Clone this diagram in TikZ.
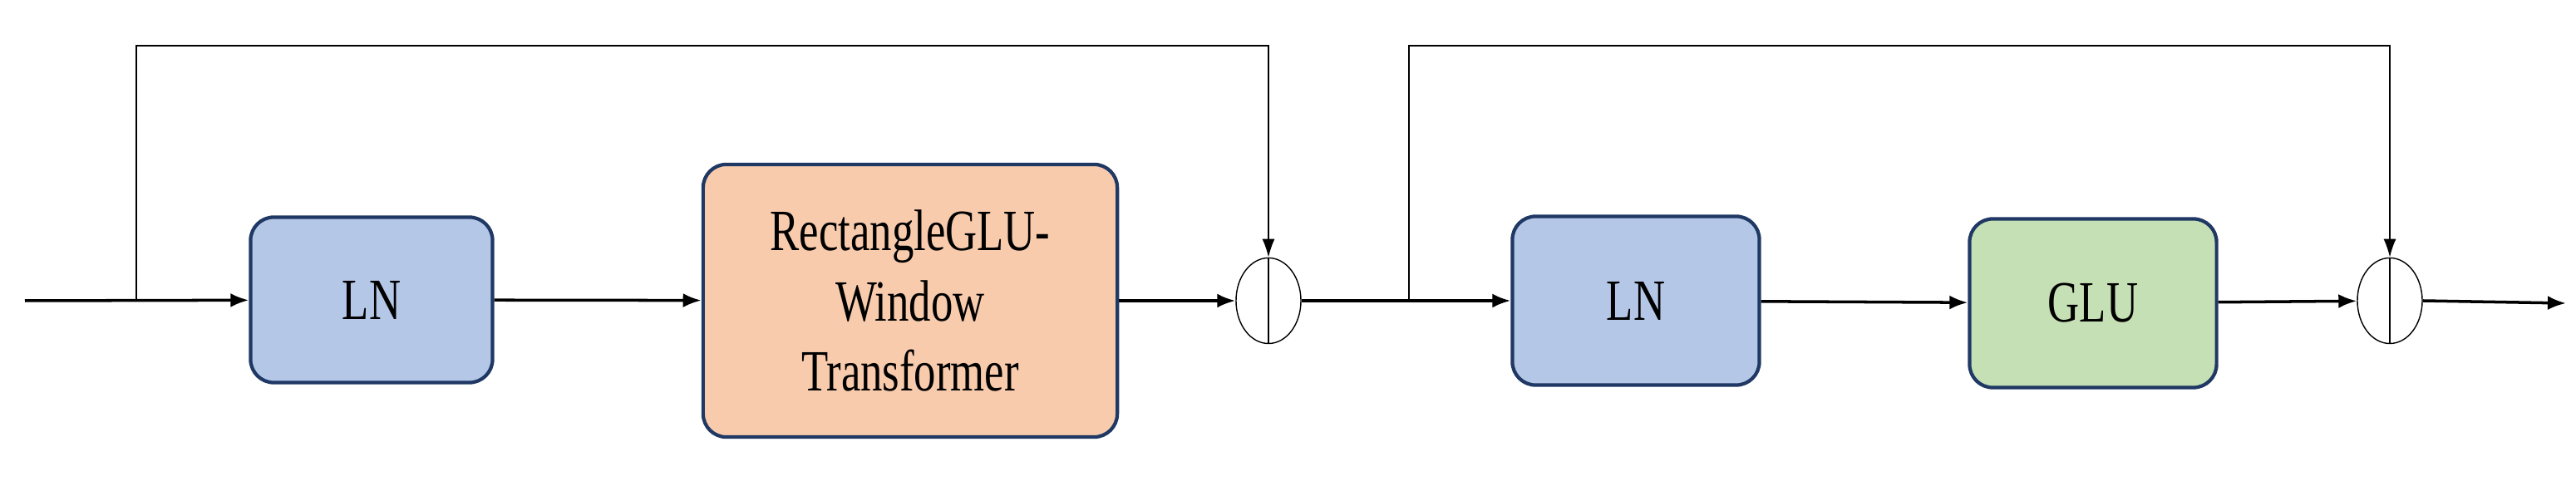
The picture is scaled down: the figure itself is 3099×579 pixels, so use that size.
\documentclass[tikz,border=0pt]{standalone}
\usepackage{fontspec}
\setmainfont{Liberation Serif}[FakeStretch=0.75]
\usetikzlibrary{positioning,arrows.meta,shapes.geometric}

\definecolor{lnblue}{HTML}{B4C7E7}
\definecolor{rgworange}{HTML}{F8CBAD}
\definecolor{glugreen}{HTML}{C5E0B4}
\definecolor{edgeblue}{HTML}{1F3864}

\tikzset{
    block/.style={draw=edgeblue, line width=1.2pt, rounded corners=0.28cm, align=center,
        inner sep=0pt, font=\fontsize{20}{24}\selectfont},
    plus/.style={draw, ellipse, minimum width=0.78cm, minimum height=1.03cm, inner sep=0pt},
    flow/.style={-{Latex[length=0.22cm,width=0.17cm]}, line width=1pt},
    skip/.style={line width=0.5pt}
}

\begin{document}
\begin{tikzpicture}[x=0.01cm, y=0.01cm]
\useasboundingbox (0,0) rectangle (3099,579);

\node[block, fill=lnblue, minimum width=2.91cm, minimum height=1.99cm] (ln1) at (447,218) {LN};
\node[block, fill=rgworange, minimum width=4.98cm, minimum height=3.28cm] (rgw) at (1095,217) {RectangleGLU-\\Window\\Transformer};
\node[plus] (add1) at (1526,217) {};
\node[block, fill=lnblue, minimum width=2.97cm, minimum height=2.03cm] (ln2) at (1968,217) {LN};
\node[block, fill=glugreen, minimum width=2.97cm, minimum height=2.03cm] (glu) at (2518,214) {GLU};
\node[plus] (add2) at (2875,217) {};

\coordinate (in) at (30,217);
\coordinate (out) at (3087,214);
\coordinate (br1) at (164,217);
\coordinate (br2) at (1695,217);

% plus signs
\draw[skip] (add1.north) -- (add1.south);
\draw[skip] (add2.north) -- (add2.south);

% main path
\draw[flow] (in) -- (ln1);
\draw[flow] (ln1) -- (rgw);
\draw[flow] (rgw) -- (add1);
\draw[flow] (add1.east) -- (ln2);
\draw[flow] (ln2) -- (glu);
\draw[flow] (glu) -- (add2);
\draw[flow] (add2.east) -- (out);

% residual connections
\draw[skip, -{Latex[length=0.22cm,width=0.15cm]}] (br1) -- (164,524) -| (add1.north);
\draw[skip, -{Latex[length=0.22cm,width=0.15cm]}] (br2) -- (1695,524) -| (add2.north);

\end{tikzpicture}
\end{document}
